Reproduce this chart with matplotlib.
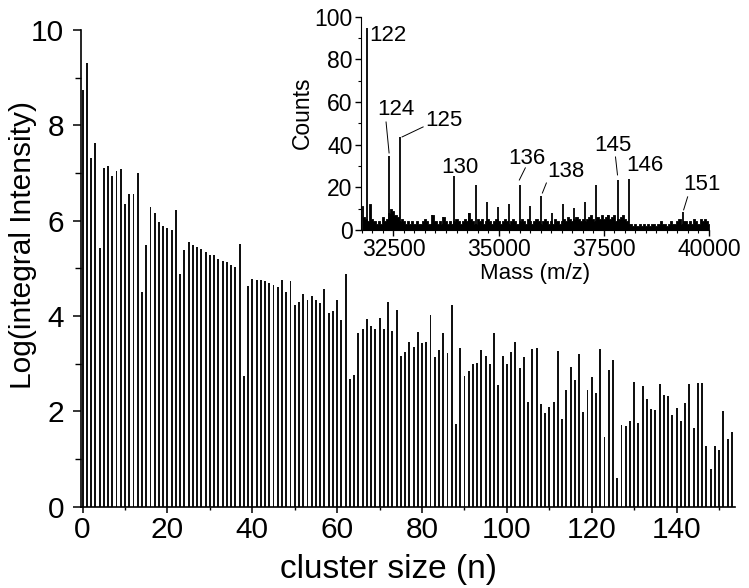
import numpy as np
import matplotlib
matplotlib.use("Agg")
import matplotlib.pyplot as plt
from matplotlib.ticker import MultipleLocator

plt.rcParams['font.family'] = ['Liberation Sans', 'DejaVu Sans']

# main panel: log of integral intensity per cluster size n = 0..153
log_int = [
    8.74, 9.30, 7.31, 7.64, 5.43, 7.10, 7.15, 6.93, 7.05, 7.08,
    6.35, 6.56, 6.56, 7.01, 4.50, 5.50, 6.28, 6.16, 5.97, 5.88,
    5.85, 5.80, 6.23, 4.88, 5.38, 5.55, 5.50, 5.45, 5.41, 5.34,
    5.29, 5.28, 5.19, 5.16, 5.13, 5.08, 5.03, 5.52, 2.74, 4.64,
    4.78, 4.76, 4.76, 4.73, 4.70, 4.66, 4.62, 4.76, 4.50, 4.74,
    4.24, 4.29, 4.46, 4.33, 4.42, 4.34, 4.27, 4.57, 4.06, 4.10,
    4.34, 3.92, 4.89, 2.68, 2.77, 3.65, 3.73, 3.94, 3.80, 3.73,
    3.95, 3.72, 4.29, 3.68, 4.13, 3.16, 3.25, 3.45, 3.36, 3.67,
    3.43, 3.45, 4.03, 3.15, 3.29, 3.65, 3.22, 4.23, 1.74, 3.33,
    2.75, 2.84, 3.00, 3.01, 3.29, 3.17, 3.00, 3.65, 2.56, 3.17,
    3.00, 3.24, 3.45, 2.92, 3.14, 2.20, 3.31, 3.33, 2.16, 1.96,
    2.09, 2.20, 3.26, 1.84, 2.46, 2.93, 2.66, 3.21, 1.99, 2.45,
    2.72, 2.38, 3.31, 1.47, 2.87, 3.07, 0.61, 1.71, 1.69, 1.80,
    2.61, 1.75, 2.54, 2.26, 2.05, 2.03, 2.57, 2.34, 2.32, 1.93,
    2.08, 1.80, 2.17, 2.58, 1.66, 2.59, 2.59, 1.27, 0.79, 1.27,
    1.19, 2.01, 1.43, 1.57,
]
cluster_n = list(range(len(log_int)))

# inset: mass spectrum, prominent peaks
peak_mass = [31880, 32397, 32659, 33420, 33682, 33944, 34286, 34460, 34723,
             34980, 35240, 35500, 35757, 36016, 36274, 36536, 36798, 37055,
             37320, 37600, 37833, 38095, 39390]
peak_counts = [94.5, 34.7, 43.4, 7.0, 6.0, 25.3, 8.0, 21.1, 13.0,
               10.9, 12.2, 21.1, 11.0, 16.1, 8.1, 12.2, 10.2, 13.3,
               21.1, 7.0, 23.3, 24.1, 8.2]
# noise floor, read every 50 Da from 31750 to 40000
noise_mass = list(range(31750, 40001, 50))
noise_counts = [
    11, 6, 5, 4, 12, 5,
    4, 3, 4, 3, 6, 4, 5, 8, 10, 9,
    7, 6, 4, 5, 4, 3, 4, 3, 4, 3,
    4, 3, 3, 4, 5, 4, 3, 3, 7, 4,
    3, 4, 3, 6, 4, 3, 4, 3, 4, 5,
    4, 3, 4, 5, 4, 8, 5, 4, 3, 5,
    4, 5, 3, 4, 5, 4, 3, 4, 5, 4,
    3, 4, 5, 4, 3, 4, 5, 4, 3, 4,
    5, 4, 3, 5, 4, 3, 4, 5, 4, 3,
    4, 5, 4, 3, 4, 3, 5, 4, 3, 4,
    5, 4, 6, 5, 4, 5, 6, 5, 4, 5,
    4, 5, 6, 7, 5, 4, 6, 5, 7, 5,
    6, 7, 5, 6, 7, 4, 5, 6, 7, 5,
    4, 3, 3, 2, 3, 2, 3, 2, 3, 2,
    3, 2, 3, 3, 2, 3, 4, 3, 3, 2,
    3, 4, 3, 3, 4, 5, 3, 4, 4, 3,
    4, 3, 5, 4, 3, 5, 4, 5, 4, 3,
]
# peak labels: (text, text position, line start, line end)
labels = [
    ("122", (32373, 91.0), None, None),
    ("124", (32563, 56.3), (32325, 50.6), (32397, 36.1)),
    ("125", (33706, 51.1), (33206, 48.3), (32706, 43.6)),
    ("130", (34087, 29.1), None, None),
    ("136", (35682, 33.3), (35635, 29.1), (35492, 23.4)),
    ("138", (36587, 27.2), (36135, 22.0), (36040, 17.3)),
    ("145", (37706, 39.4), (37778, 34.2), (37825, 25.8)),
    ("146", (38468, 30.0), None, None),
    ("151", (39825, 21.1), (39492, 15.5), (39397, 9.4)),
]

fig = plt.figure(figsize=(7.49, 5.88), dpi=100)
ax = fig.add_axes([0.108, 0.138, 0.873, 0.811])
ax.bar(cluster_n, log_int, width=0.45, color="#111111", linewidth=0)
ax.set_xlim(-0.4, 153.7)
ax.set_ylim(0, 10)
ax.xaxis.set_major_locator(MultipleLocator(20))
ax.xaxis.set_minor_locator(MultipleLocator(10))
ax.yaxis.set_major_locator(MultipleLocator(2))
ax.yaxis.set_minor_locator(MultipleLocator(1))
for s in ("top", "right"):
    ax.spines[s].set_visible(False)
for s in ("left", "bottom"):
    ax.spines[s].set_linewidth(1.2)
ax.tick_params(axis="y", which="major", direction="out", length=6, width=1.1,
               labelsize=21.5, pad=6)
ax.tick_params(axis="y", which="minor", direction="out", length=4, width=1.0)
ax.tick_params(axis="x", which="major", direction="out", length=4, width=1.1,
               labelsize=21.5, pad=2.5)
ax.tick_params(axis="x", which="minor", direction="out", length=2.5, width=1.0)
ax.set_xlabel("cluster size (n)", fontsize=24)
ax.set_ylabel("Log(integral Intensity)", fontsize=21.5)
ax.xaxis.set_label_coords(0.471, -0.099)
ax.yaxis.set_label_coords(-0.067, 0.55)

# inset spectrum
ins = fig.add_axes([0.482, 0.609, 0.4646, 0.3626])
ins.fill_between(noise_mass, noise_counts, 0, step="mid", color="black",
                 linewidth=0.6)
ins.vlines(peak_mass, 0, peak_counts, color="black", lw=1.3)
ins.set_xlim(31730, 40000)
ins.set_ylim(0, 100)
ins.set_xticks([32500, 35000, 37500, 40000])
ins.xaxis.set_minor_locator(MultipleLocator(250))
ins.yaxis.set_major_locator(MultipleLocator(20))
ins.yaxis.set_minor_locator(MultipleLocator(10))
for s in ("top", "right"):
    ins.spines[s].set_visible(False)
ins.tick_params(which="major", direction="out", length=4, width=1.0,
                labelsize=16.5, pad=2)
ins.tick_params(which="minor", direction="out", length=2, width=0.8)
ins.set_xlabel("Mass (m/z)", fontsize=16, labelpad=1)
ins.set_ylabel("Counts", fontsize=16.5)
ins.yaxis.set_label_coords(-0.135, 0.55)

for txt, pos, p0, p1 in labels:
    ins.text(pos[0], pos[1], txt, fontsize=16, ha="center", va="center")
    if p0 is not None:
        ins.plot([p0[0], p1[0]], [p0[1], p1[1]], color="black", lw=0.7)

fig.savefig("out.png", dpi=100)
